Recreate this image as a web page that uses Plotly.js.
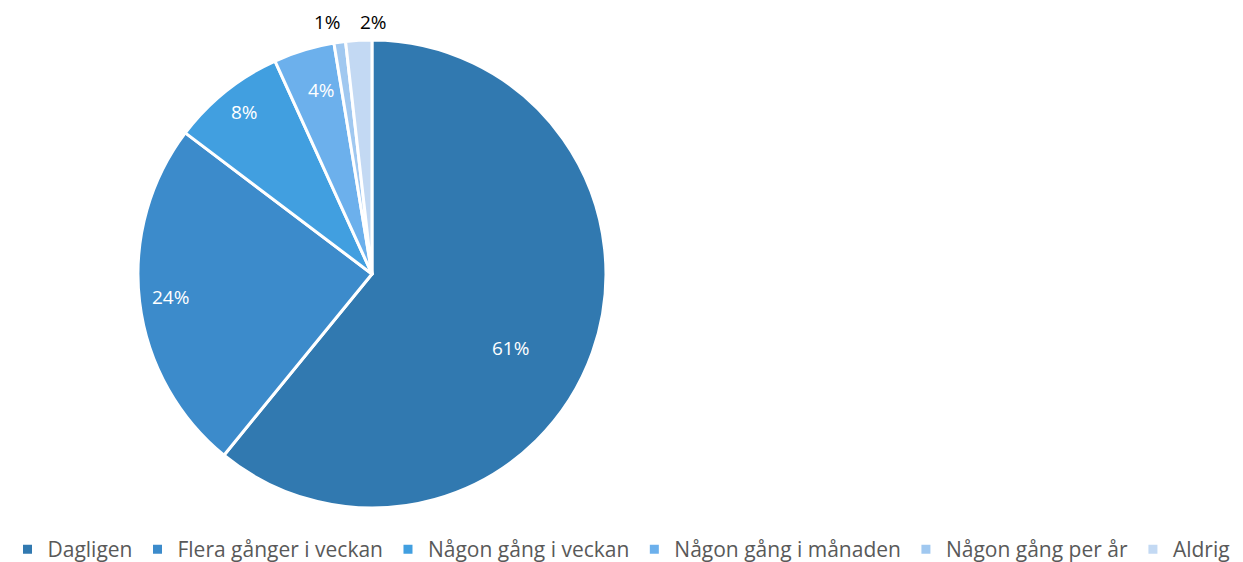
<!DOCTYPE html>
<html>
<head>
<meta charset="utf-8">
<script src="https://cdn.plot.ly/plotly-3.0.1.min.js"></script>
<style>html,body{margin:0;padding:0;background:#fff;}#chart{width:1243px;height:562px;}</style>
</head>
<body>
<div id="chart"></div>
<script>
var categories = ["Dagligen", "Flera gånger i veckan", "Någon gång i veckan", "Någon gång i månaden", "Någon gång per år", "Aldrig"];
var values = [60.9, 24.4, 7.9, 4.2, 0.8, 1.8];
var colors = ["#3179B0", "#3C8BCB", "#419FE0", "#6CB0EC", "#A0C8F0", "#C3D9F3"];
var textColors = ["#ffffff", "#ffffff", "#ffffff", "#ffffff", "#000000", "#000000"];
// label anchor points (paper fraction) for data labels, Excel-style placement
var labelX = [0.4105, 0.137, 0.1965, 0.259, 0.2635, 0.3005];
var labelY = [0.381, 0.471, 0.801, 0.840, 0.961, 0.961];

var total = values.reduce(function (a, b) { return a + b; }, 0);
var annotations = values.map(function (v, i) {
  return {
    xref: "paper", yref: "paper",
    x: labelX[i], y: labelY[i],
    xanchor: "center", yanchor: "middle",
    text: Math.round(v / total * 100) + "%",
    showarrow: false,
    font: {family: "Open Sans, sans-serif", size: 19, color: textColors[i]}
  };
});

var trace = {
  type: "pie",
  labels: categories,
  values: values,
  sort: false,
  direction: "clockwise",
  rotation: 0,
  hole: 0,
  marker: {colors: colors, line: {color: "#ffffff", width: 3}},
  textinfo: "none",
  domain: {x: [0.111, 0.4875], y: [0.096, 0.929]},
  hoverinfo: "label+percent"
};

var layout = {
  width: 1243,
  height: 562,
  margin: {l: 0, r: 0, t: 0, b: 0, autoexpand: false},
  paper_bgcolor: "#ffffff",
  showlegend: true,
  annotations: annotations,
  legend: {
    orientation: "h",
    x: 0.5, xanchor: "center",
    y: 0.0587, yanchor: "top",
    font: {family: "Open Sans, sans-serif", size: 21, color: "#595959"},
    itemwidth: 30,
    traceorder: "normal"
  }
};

Plotly.newPlot("chart", [trace], layout, {displayModeBar: false, staticPlot: true});
</script>
</body>
</html>
